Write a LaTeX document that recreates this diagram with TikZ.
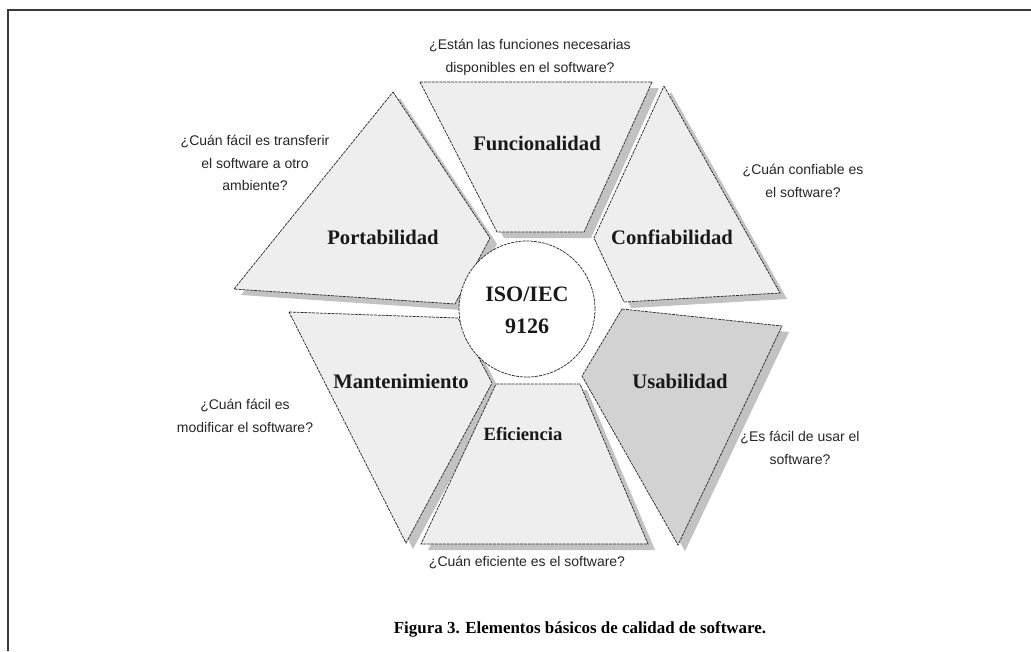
\documentclass[tikz,border=0pt]{standalone}
\usepackage{fontspec}
\newfontfamily\qfont{Liberation Sans}
\newfontfamily\lfont{Liberation Serif}
\definecolor{pieceFill}{HTML}{EEEEEE}
\definecolor{pieceDark}{HTML}{D2D2D2}
\definecolor{shadowGrey}{HTML}{C2C2C2}
\definecolor{edgeGrey}{HTML}{2A2A2A}
\definecolor{frameGrey}{HTML}{3A3A3A}
\tikzset{
  piece/.style={fill=pieceFill, draw=edgeGrey, line width=0.55pt, dash pattern=on 2.2pt off 0.7pt},
  dropshadow/.style={fill=shadowGrey, draw=none, shift={(7,6)}},
  lbl/.style={font=\lfont\bfseries\fontsize{15.5}{18}\selectfont, text=black!90},
  hub/.style={font=\lfont\bfseries\fontsize{16.5}{24}\selectfont, align=center, text=black!90},
  quest/.style={font=\qfont\fontsize{10.5}{17}\selectfont, align=center, text=black!85},
  capt/.style={font=\lfont\bfseries\fontsize{12.7}{15}\selectfont}
}
\begin{document}
\begin{tikzpicture}[x=0.75pt, y=-0.75pt]
\useasboundingbox (0,0) rectangle (1031,651);
\fill[white] (0,0) rectangle (1031,651);
% frame
\draw[frameGrey, line width=1.4pt] (8,651) -- (8,10) -- (1031,10);

% piece outlines (shared by shadow and face)
\def\pF{(420,82) -- (652,82) -- (584,232) -- (497,232) -- cycle}
\def\pC{(664,86) -- (780,293) -- (624,302) -- (594,238) -- cycle}
\def\pP{(393,92) -- (490,238) -- (455,304) -- (234,289) -- cycle}
\def\pM{(289,312) -- (458,318) -- (492,383) -- (406,543) -- cycle}
\def\pE{(496,384) -- (580,384) -- (648,544) -- (421,544) -- cycle}
\def\pU{(622,309) -- (782,326) -- (678,545) -- (582,376) -- cycle}

% shadows
\foreach \p in {\pF,\pC,\pP,\pM,\pE,\pU}{\fill[dropshadow] \p;}
% faces
\draw[piece] \pF;
\draw[piece] \pC;
\draw[piece] \pP;
\draw[piece] \pM;
\draw[piece] \pE;
\draw[piece, fill=pieceDark] \pU;

% hub
\node[circle, draw=edgeGrey, fill=white, line width=0.55pt, dash pattern=on 2.2pt off 0.7pt, minimum size=102pt, inner sep=0pt] (hub) at (527,309) {};
\node[hub] (hubtxt) at (527,310) {ISO/IEC\\9126};

% characteristic labels
\node[lbl] (func) at (537,143) {Funcionalidad};
\node[lbl] (conf) at (672,237) {Confiabilidad};
\node[lbl] (port) at (383,237) {Portabilidad};
\node[lbl] (mant) at (401,381) {Mantenimiento};
\node[lbl] (usab) at (680,381) {Usabilidad};
\node[lbl, font=\lfont\bfseries\fontsize{14}{16}\selectfont] (efic) at (523,434) {Eficiencia};

% guiding questions
\node[quest] (qfunc) at (530,57) {¿Están las funciones necesarias\\disponibles en el software?};
\node[quest] (qport) at (255,163) {¿Cuán fácil es transferir\\el software a otro\\ambiente?};
\node[quest] (qconf) at (803,181) {¿Cuán confiable es\\el software?};
\node[quest] (qmant) at (245,416) {¿Cuán fácil es\\modificar el software?};
\node[quest] (qusab) at (800,448) {¿Es fácil de usar el\\software?};
\node[quest] (qefic) at (527,563) {¿Cuán eficiente es el software?};

% caption
\node[capt] (caption) at (580,629) {Figura 3. Elementos básicos de calidad de software.};
\end{tikzpicture}
\end{document}
